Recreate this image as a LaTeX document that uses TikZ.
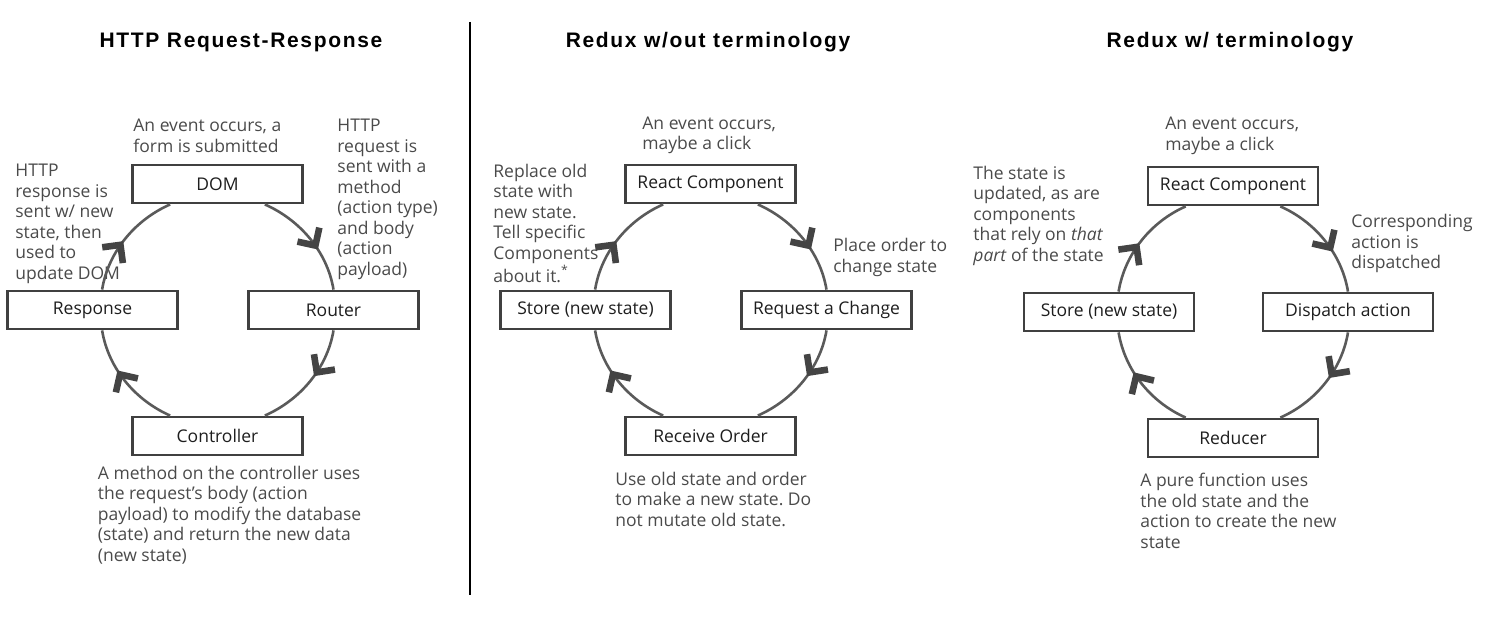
\documentclass[tikz,border=0pt]{standalone}
\usepackage{fontspec}
\setmainfont{Open Sans}
\newfontfamily\titlefont{Liberation Sans}[LetterSpace=8]
\usetikzlibrary{arrows.meta,decorations.markings}
\frenchspacing

\definecolor{textgray}{HTML}{4A4A4A}
\definecolor{labelgray}{HTML}{1E1E1E}
\definecolor{boxgray}{HTML}{404040}
\definecolor{ringgray}{HTML}{5A5A5A}
\definecolor{chevgray}{HTML}{444444}

\tikzset{
  box/.style={draw=boxgray, fill=white, line width=1.4pt, minimum width=85pt,
    minimum height=19pt, inner sep=0pt, text=labelgray},
  % multi-line notes: the base anchor sits on the last line
  note/.style={anchor=base west, align=left, inner sep=0pt, text=textgray},
  heading/.style={anchor=base, inner sep=0pt,
    font=\titlefont\bfseries\fontsize{10.5}{12}\selectfont},
  flow/.style={draw=ringgray, line width=1.3pt, looseness=0.9,
    postaction={decorate, decoration={markings, mark=at position #1 with
      {\arrow{Straight Barb[length=6.5pt, width=13pt, line width=3.3pt, color=chevgray]}}}}},
}

\begin{document}
\begin{tikzpicture}[x=0.5pt, y=0.5pt, font=\fontsize{8.75}{10.25}\selectfont]
  \useasboundingbox (0,0) rectangle (1495,-620);

  % ---- headings and divider ----
  \node[heading] (title1) at (241,-47.3) {HTTP Request-Response};
  \node[heading] (title2) at (708,-47.3) {Redux w/out terminology};
  \node[heading] (title3) at (1230,-47.3) {Redux w/ terminology};
  \draw[line width=1.4pt] (470,-22) -- (470,-595);

  % ---- HTTP cycle, centre (217.5,-310) ----
  \node[box] (dom)    at (217.5,-184) {DOM};
  \node[box] (router) at (333.5,-310) {Router};
  \node[box] (ctrl)   at (217.5,-436) {Controller};
  \node[box] (resp)   at (92.5,-310)  {Response};

  \node[note] (n-dom)    at (133,-152.5) {An event occurs, a\\form is submitted};
  \node[note] (n-router) at (337,-275.5) {HTTP\\request is\\sent with a\\method\\(action type)\\and body\\(action\\payload)};
  \node[note] (n-resp)   at (15,-279.5)  {HTTP\\response is\\sent w/ new\\state, then\\used to\\update DOM};
  \node[note] (n-ctrl)   at (97.5,-561)  {A method on the controller uses\\the request’s body (action\\payload) to modify the database\\(state) and return the new data\\(new state)};

  % ---- Redux cycle without terminology, centre (710.5,-310) ----
  \node[box] (react1) at (710.5,-184) {React Component};
  \node[box] (change) at (826.5,-310) {Request a Change};
  \node[box] (order)  at (710.5,-436) {Receive Order};
  \node[box] (store1) at (585.5,-310) {Store (new state)};

  \node[note] (n-react1) at (642,-149.8) {An event occurs,\\maybe a click};
  \node[note] (n-store1) at (493,-282.5) {Replace old\\state with\\new state.\\Tell specific\\Components\\about it.\textsuperscript{*}};
  \node[note] (n-change) at (833,-272.2) {Place order to\\change state};
  \node[note] (n-order)  at (615,-526)   {Use old state and order\\to make a new state. Do\\not mutate old state.};

  % ---- Redux cycle with terminology, centre (1233,-312) ----
  \node[box] (react2)   at (1233,-186) {React Component};
  \node[box] (dispatch) at (1348,-312) {Dispatch action};
  \node[box] (reducer)  at (1233,-438) {Reducer};
  \node[box] (store2)   at (1109,-312) {Store (new state)};

  \node[note] (n-react2)   at (1165,-150.5) {An event occurs,\\maybe a click};
  \node[note] (n-store2)   at (973,-261.3)  {The state is\\updated, as are\\components\\that rely on \textit{that}\\\textit{part} of the state};
  \node[note] (n-dispatch) at (1351,-269)   {Corresponding\\action is\\dispatched};
  \node[note] (n-reducer)  at (1140,-548.2) {A pure function uses\\the old state and the\\action to create the new\\state};

  % ---- ring arcs, clockwise: top -> right -> bottom -> left -> top ----
  % arcs follow a circle of radius 117px; they leave the top and bottom
  % boxes 47.3px off centre and meet the left box 9.6px off its centre
  \foreach \top/\right/\bottom/\left in {dom/router/ctrl/resp,
      react1/change/order/store1, react2/dispatch/reducer/store2} {
    \draw[flow=0.62] ([xshift=23.65pt]\top.south) to[out=-23.8, in=99.35] (\right.north);
    \draw[flow=0.44] (\right.south) to[out=-99.35, in=23.8] ([xshift=23.65pt]\bottom.north);
    \draw[flow=0.62] ([xshift=-23.65pt]\bottom.north) to[out=156.2, in=-80.65] ([xshift=4.8pt]\left.south);
    \draw[flow=0.47] ([xshift=4.8pt]\left.north) to[out=80.65, in=-156.2] ([xshift=-23.65pt]\top.south);
  }

\end{tikzpicture}
\end{document}
